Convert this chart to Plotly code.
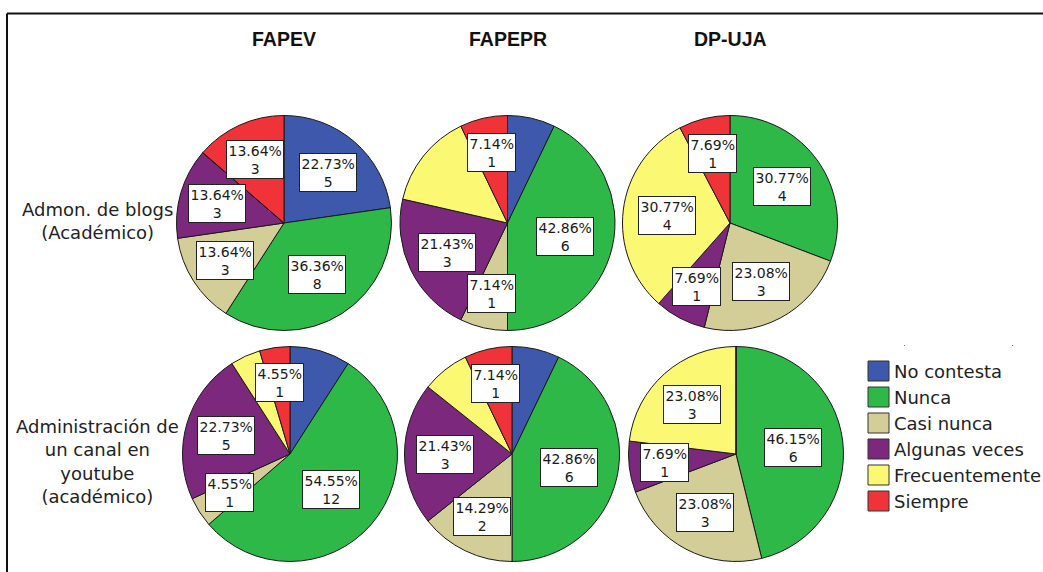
import math
import plotly.graph_objects as go

# Response categories and their colours
categories = ["No contesta", "Nunca", "Casi nunca", "Algunas veces", "Frecuentemente", "Siempre"]
colors = ["#3E58AC", "#2EB848", "#D3CE97", "#7C287D", "#FBF873", "#EF3338"]

# Column (group) and row (item) headers
groups = ["FAPEV", "FAPEPR", "DP-UJA"]
items = ["Admon. de blogs<br>(Académico)",
         "Administración de<br>un canal en<br>youtube<br>(académico)"]

# Counts per category, in the order of `categories`
blogs_fapev = [5, 8, 3, 3, 0, 3]
blogs_fapepr = [1, 6, 1, 3, 2, 1]
blogs_dpuja = [0, 4, 3, 1, 4, 1]
youtube_fapev = [2, 12, 1, 5, 1, 1]
youtube_fapepr = [1, 6, 2, 3, 1, 1]
youtube_dpuja = [0, 6, 3, 1, 3, 0]

grid = [[blogs_fapev, blogs_fapepr, blogs_dpuja],
        [youtube_fapev, youtube_fapepr, youtube_dpuja]]

# Slices whose value box is left out (row, column, category index)
unlabelled = {(0, 1, 0), (0, 1, 4), (1, 0, 0), (1, 0, 4), (1, 1, 0), (1, 1, 4)}

W, H = 1043, 572
RADIUS = 107.5
row_cy = [223, 454]
col_cx = [[284, 507.5, 730], [290, 512, 736]]


def px(x):
    return x / W


def py(y):
    return 1 - y / H


fig = go.Figure()
annotations = []
shapes = []

for r, row in enumerate(grid):
    for c, counts in enumerate(row):
        cx, cy = col_cx[r][c], row_cy[r]
        fig.add_trace(go.Pie(
            values=counts,
            labels=categories,
            marker=dict(colors=colors, line=dict(color="#1a1a1a", width=1)),
            sort=False,
            direction="clockwise",
            rotation=0,
            textinfo="none",
            hoverinfo="label+value+percent",
            showlegend=False,
            domain=dict(x=[px(cx - RADIUS), px(cx + RADIUS)],
                        y=[py(cy + RADIUS), py(cy - RADIUS)]),
        ))
        # value boxes placed along each slice's mid angle
        total = sum(counts)
        start = 0.0
        for i, n in enumerate(counts):
            frac = n / total
            mid = (start + frac / 2) * 2 * math.pi
            start += frac
            if n == 0 or (r, c, i) in unlabelled:
                continue
            k = 0.67 - 0.35 * max(0.0, frac - 0.08)
            lx = cx + k * RADIUS * math.sin(mid)
            ly = cy - k * RADIUS * math.cos(mid)
            annotations.append(dict(
                x=px(lx), y=py(ly), xref="paper", yref="paper",
                text=f"{100 * frac:.2f}%<br>{n}", showarrow=False,
                font=dict(family="DejaVu Sans", size=14, color="#1a1a1a"),
                bgcolor="white", bordercolor="#222", borderwidth=1, borderpad=1.5,
                xanchor="center", yanchor="middle",
            ))

# Column titles
for c, g in enumerate(groups):
    annotations.append(dict(
        x=px(col_cx[0][c]), y=py(39), xref="paper", yref="paper",
        text=f"<b>{g}</b>", showarrow=False,
        font=dict(family="Liberation Sans, Arial", size=19.5, color="#111"),
        xanchor="center", yanchor="middle",
    ))

# Row titles
for r, label in enumerate(items):
    annotations.append(dict(
        x=px(97), y=py([221, 461][r]), xref="paper", yref="paper",
        text=label, showarrow=False, align="center",
        font=dict(family="DejaVu Sans", size=18, color="#222"),
        xanchor="center", yanchor="middle",
    ))

# Legend
for i, (name, col) in enumerate(zip(categories, colors)):
    top = 361 + 26 * i
    shapes.append(dict(type="rect", xref="paper", yref="paper",
                       x0=px(868), x1=px(889), y0=py(top + 20), y1=py(top),
                       fillcolor=col, line=dict(color="#333", width=1)))
    annotations.append(dict(
        x=px(892), y=py(top + 10), xref="paper", yref="paper",
        text=name, showarrow=False,
        font=dict(family="DejaVu Sans", size=18, color="#222"),
        xanchor="left", yanchor="middle",
    ))

# Small tick marks above the legend
for xdot in (904, 1012):
    shapes.append(dict(type="rect", xref="paper", yref="paper",
                       x0=px(xdot), x1=px(xdot + 1), y0=py(346), y1=py(345),
                       fillcolor="#777", line=dict(width=0)))

# Frame around the chart
shapes.append(dict(type="line", xref="paper", yref="paper",
                   x0=px(7), x1=px(1043), y0=py(13.5), y1=py(13.5),
                   line=dict(color="#111", width=2)))
shapes.append(dict(type="line", xref="paper", yref="paper",
                   x0=px(7), x1=px(7), y0=py(13.5), y1=py(572),
                   line=dict(color="#111", width=2)))

fig.update_layout(
    width=W, height=H,
    margin=dict(l=0, r=0, t=0, b=0),
    paper_bgcolor="white",
    plot_bgcolor="white",
    annotations=annotations,
    shapes=shapes,
    showlegend=False,
)

fig.write_html("out.html")
